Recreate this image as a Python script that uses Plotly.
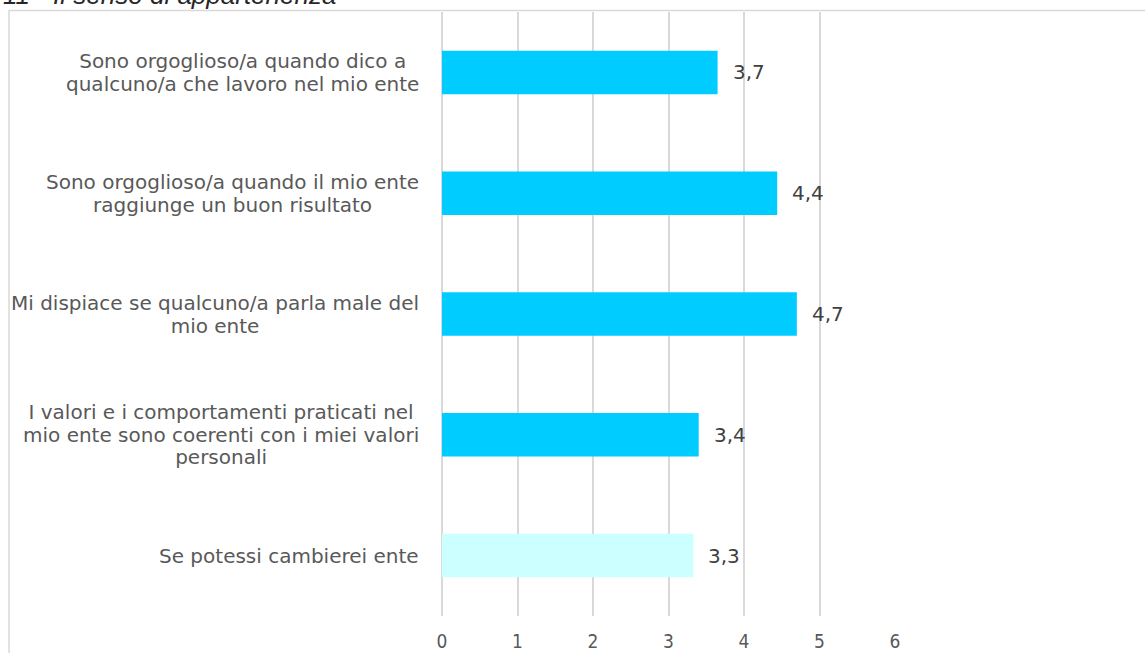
import plotly.graph_objects as go

categories = [
    "Sono orgoglioso/a quando dico a<br>qualcuno/a che lavoro nel mio ente",
    "Sono orgoglioso/a quando il mio ente<br>raggiunge un buon risultato",
    "Mi dispiace se qualcuno/a parla male del<br>mio ente",
    "I valori e i comportamenti praticati nel<br>mio ente sono coerenti con i miei valori<br>personali",
    "Se potessi cambierei ente",
]
values = [3.65, 4.44, 4.70, 3.40, 3.33]
value_labels = ["3,7", "4,4", "4,7", "3,4", "3,3"]
bar_colors = ["#00CCFF", "#00CCFF", "#00CCFF", "#00CCFF", "#CCFFFF"]
x_ticks = [0, 1, 2, 3, 4, 5, 6]
title_text = "11 - Il senso di appartenenza"

W, H = 1145, 653
L, R = 442, 895
T, B = 11.5, 616.5
pw, ph = R - L, B - T

def px_x(p):
    return (p - L) / pw

def px_y(p):
    return (B - p) / ph

ids = list(range(len(categories)))

fig = go.Figure()
fig.add_trace(go.Bar(
    x=values, y=ids, orientation="h",
    marker=dict(color=bar_colors, line=dict(width=0)),
    width=0.36, hoverinfo="skip", showlegend=False,
))

def big(txt):
    return "<br>".join("<span style='font-size:20px'>" + ln + "</span>" for ln in txt.split("<br>"))

ann = []
for i, (c, v, t) in enumerate(zip(categories, values, value_labels)):
    ann.append(dict(
        x=px_x(421), xref="paper", y=i, yref="y",
        text=big(c), showarrow=False, xanchor="right", yanchor="middle", align="center",
        font=dict(family="DejaVu Sans", size=17.4, color="#595959"),
    ))
    ann.append(dict(
        x=v, xref="x", y=i, yref="y", text=t, showarrow=False,
        xanchor="left", yanchor="middle", xshift=13,
        font=dict(family="DejaVu Sans", size=20, color="#404040"),
    ))
ann.append(dict(
    x=px_x(1), xref="paper", y=px_y(11), yref="paper", text="<i>" + title_text + "</i>",
    showarrow=False, xanchor="left", yanchor="bottom",
    font=dict(family="Liberation Sans", size=26, color="#262626"),
))

fig.update_layout(
    width=W, height=H,
    margin=dict(l=L, r=W - R, t=T, b=H - B, pad=0, autoexpand=False),
    paper_bgcolor="white", plot_bgcolor="white",
    xaxis=dict(range=[0, 6], tickvals=x_ticks, ticktext=[str(v) for v in x_ticks],
               automargin=False,
               showgrid=True, gridcolor="#D9D9D9", gridwidth=1.5,
               zeroline=True, zerolinecolor="#D9D9D9", zerolinewidth=1.5,
               showline=False, ticks="", ticklabelstandoff=12,
               tickfont=dict(family="DejaVu Sans Condensed, DejaVu Sans", size=19, color="#595959")),
    yaxis=dict(range=[4.5, -0.5], showticklabels=False, showgrid=False, automargin=False,
               zeroline=False, showline=False, ticks=""),
    annotations=ann,
    shapes=[dict(type="rect", xref="paper", yref="paper",
                 x0=px_x(9), x1=px_x(W + 40), y0=px_y(H + 40), y1=px_y(10),
                 line=dict(color="#D9D9D9", width=1.5), fillcolor="rgba(0,0,0,0)", layer="below")],
    font=dict(family="DejaVu Sans"),
)

post = (
    "document.body.style.margin='0';"
    "document.body.style.overflow='hidden';"
    "document.documentElement.style.overflow='hidden';"
)
fig.write_html("out.html", post_script=post, config={"displayModeBar": False})
